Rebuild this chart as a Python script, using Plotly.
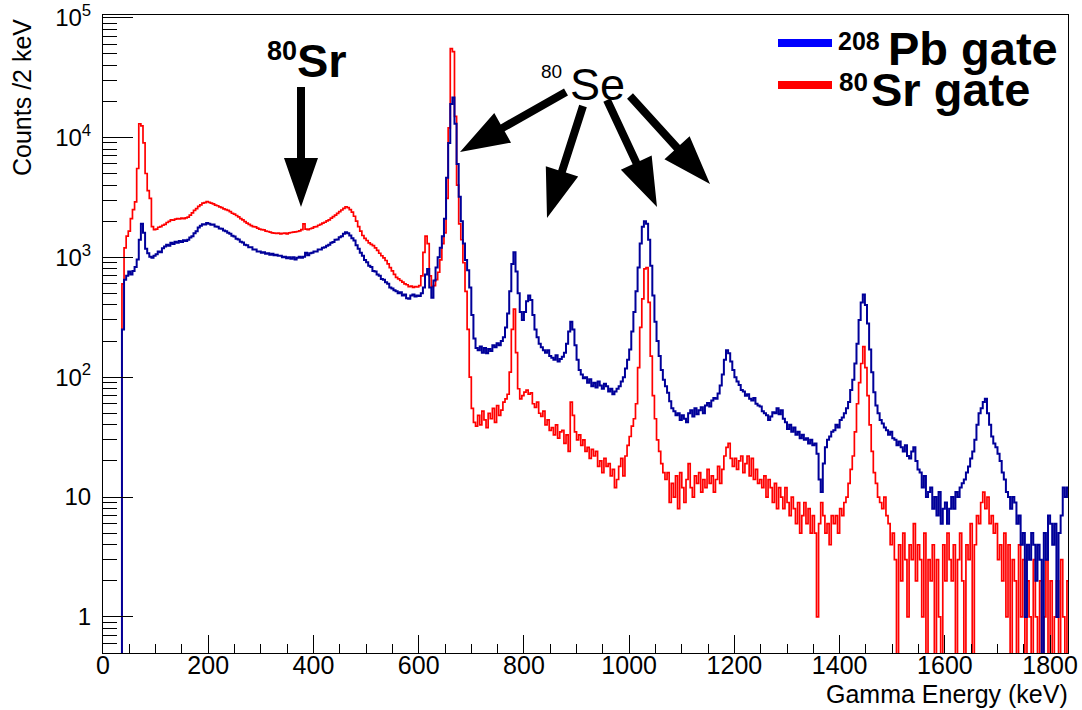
import plotly.graph_objects as go

# ---------------- data (counts per 2 keV, read in 4 keV steps) ----------------
first_edge_kev = 36
bin_width_kev = 4

pb_gate_counts = [
    250, 650, 700, 760, 720, 770, 830, 960, 1400, 1900, 1600, 1180, 1080, 1010, 990, 1030, 1060, 1120, 1100, 1190, 1230, 1270, 1250, 1320, 1290,
    1350, 1320, 1370, 1340, 1390, 1370, 1400, 1460, 1500, 1590, 1650, 1770, 1830, 1890, 1880, 1930, 1900, 1870, 1880, 1810, 1800, 1740, 1730, 1670, 1650,
    1600, 1570, 1510, 1490, 1430, 1410, 1350, 1330, 1270, 1260, 1210, 1210, 1160, 1160, 1120, 1120, 1090, 1100, 1070, 1080, 1050, 1070, 1040, 1050, 1030,
    1030, 1000, 1010, 980, 1000, 970, 1000, 960, 990, 1010, 990, 1010, 1090, 1040, 1080, 1090, 1120, 1120, 1160, 1160, 1200, 1210, 1250, 1270, 1320,
    1340, 1400, 1410, 1470, 1500, 1570, 1620, 1590, 1520, 1440, 1380, 1260, 1180, 1090, 1030, 950, 910, 850, 830, 770, 760, 720, 700, 660, 650,
    620, 600, 560, 550, 530, 520, 500, 510, 480, 490, 455, 450, 480, 490, 470, 480, 475, 500, 560, 720, 800, 560, 460, 640, 820,
    1000, 1200, 1500, 2100, 4600, 9000, 19000, 21500, 13000, 6000, 3200, 2000, 1300, 950, 780, 560, 330, 210, 175, 168, 180, 160, 175, 158, 172,
    165, 185, 178, 192, 185, 200, 215, 260, 340, 520, 880, 1100, 760, 500, 350, 300, 350, 430, 480, 440, 330, 250, 215, 190, 178,
    168, 160, 168, 150, 145, 140, 152, 135, 142, 148, 160, 190, 240, 290, 250, 185, 140, 115, 105, 98, 100, 90, 96, 84, 90,
    82, 92, 85, 80, 88, 84, 76, 80, 72, 76, 80, 84, 92, 100, 118, 140, 170, 240, 350, 520, 820, 1300, 1800, 2000, 1900,
    1400, 850, 480, 290, 200, 150, 115, 95, 84, 74, 63, 55, 52, 48, 50, 44, 48, 45, 42, 50, 53, 47, 55, 49, 53,
    56, 50, 58, 61, 57, 64, 67, 66, 73, 85, 105, 140, 168, 158, 135, 115, 100, 92, 86, 78, 76, 70, 72, 66, 64,
    67, 60, 58, 57, 52, 50, 48, 44, 47, 51, 50, 55, 49, 53, 45, 42, 37, 40, 35, 38, 33, 35, 31, 33, 30,
    31, 28, 30, 27, 28, 23, 14, 11, 19, 26, 30, 32, 35, 36, 40, 38, 44, 46, 50, 55, 62, 78, 95, 130, 190,
    300, 420, 490, 400, 280, 170, 110, 75, 58, 50, 44, 41, 38, 36, 33, 35, 31, 30, 27, 29, 26, 24, 27, 22, 21,
    24, 26, 20, 17, 16, 12, 15, 10, 11, 12, 8, 10, 7, 11, 6, 8, 9, 6, 8, 10, 8, 11, 10, 12, 13,
    14, 16, 18, 21, 24, 30, 40, 50, 55, 62, 66, 50, 40, 32, 28, 26, 23, 20, 16, 14, 11, 10, 8, 10, 9,
    6, 7, 4, 5, 1, 4, 3, 5, 4, 2, 4, 3, 0, 5, 3, 7, 6, 4, 6, 1, 5, 7, 12, 10, 12,
]

sr_gate_counts = [
    600, 1200, 1500, 1650, 2100, 2500, 2900, 5500, 13000, 12500, 9000, 5000, 3600, 3100, 1800, 1700, 1720, 1780, 1800, 1850, 1880, 1950, 1990, 2050, 2040,
    2080, 2100, 2090, 2120, 2100, 2130, 2160, 2250, 2350, 2460, 2550, 2660, 2740, 2830, 2860, 2920, 2870, 2830, 2790, 2720, 2690, 2630, 2600, 2530, 2500,
    2460, 2400, 2330, 2290, 2230, 2170, 2100, 2050, 1980, 1930, 1880, 1840, 1800, 1790, 1750, 1720, 1700, 1690, 1650, 1640, 1620, 1600, 1590, 1580, 1590,
    1570, 1580, 1590, 1570, 1600, 1610, 1620, 1630, 1640, 1660, 1700, 1900, 1720, 1700, 1730, 1750, 1790, 1800, 1850, 1880, 1930, 1960, 2010, 2050, 2120,
    2180, 2250, 2320, 2400, 2480, 2560, 2640, 2600, 2500, 2380, 2200, 2000, 1800, 1650, 1520, 1440, 1380, 1320, 1280, 1250, 1200, 1140, 1080, 1030, 990,
    940, 880, 820, 770, 720, 680, 660, 640, 620, 600, 590, 570, 575, 560, 570, 565, 580, 700, 1100, 1500, 1300, 700, 570, 580, 650,
    750, 950, 1300, 1600, 3100, 12000, 55000, 52000, 15000, 4000, 1900, 1400, 900, 520, 250, 100, 55, 42, 39, 48, 40, 52, 44, 38, 50,
    45, 55, 42, 58, 48, 53, 62, 66, 72, 110, 250, 370, 160, 80, 66, 70, 75, 78, 72, 74, 60, 56, 62, 50, 47,
    52, 40, 44, 36, 38, 33, 40, 31, 35, 36, 28, 33, 24, 62, 48, 35, 30, 33, 27, 30, 24, 26, 21, 25, 22,
    24, 18, 20, 16, 21, 18, 19, 15, 17, 12, 14, 18, 21, 15, 22, 27, 32, 39, 45, 60, 120, 260, 450, 800, 820,
    420, 150, 70, 45, 30, 24, 19, 16, 14, 16, 9, 13, 10, 15, 8, 16, 12, 9, 14, 19, 12, 10, 15, 13, 16,
    11, 14, 12, 17, 13, 15, 11, 14, 18, 13, 17, 22, 26, 28, 21, 18, 21, 17, 20, 22, 16, 19, 22, 15, 21,
    14, 17, 13, 14, 12, 15, 10, 14, 12, 9, 13, 8, 12, 10, 8, 12, 9, 7, 10, 8, 6, 9, 5, 7, 9,
    6, 8, 5, 7, 5, 1, 6, 9, 7, 5, 6, 4, 7, 6, 7, 5, 8, 7, 9, 10, 13, 17, 22, 35, 60,
    90, 130, 180, 120, 70, 40, 24, 16, 13, 10, 9, 8, 10, 7, 6, 4, 5, 3, 0, 4, 2, 5, 3, 1, 4,
    3, 6, 2, 4, 3, 1, 5, 0, 3, 2, 4, 0, 3, 1, 0, 4, 2, 5, 3, 2, 4, 0, 3, 5, 2,
    0, 4, 3, 6, 0, 4, 7, 6, 9, 11, 8, 10, 6, 7, 5, 6, 3, 4, 2, 5, 1, 4, 0, 3, 2,
    0, 4, 1, 3, 0, 2, 1, 0, 3, 1, 0, 2, 0, 1, 3, 0, 2, 0, 1, 2, 0, 3, 1, 0, 2,
]

series_names = ["<sup>208</sup>Pb gate", "<sup>80</sup>Sr gate"]
x_tick_values = [0, 200, 400, 600, 800, 1000, 1200, 1400, 1600, 1800]
y_tick_values = [1, 10, 100, 1000, 10000, 100000]
y_tick_labels = ["1", "10", "10<sup>2</sup>", "10<sup>3</sup>", "10<sup>4</sup>", "10<sup>5</sup>"]

# ---------------- layout geometry ----------------
W, H = 1082, 710
L, R, T, B = 103, 14, 15, 57
PW, PH = W - L - R, H - T - B
FONT = "Liberation Sans, Arial, Helvetica, sans-serif"
FLOOR = 0.05  # empty bins drop to the bottom of the log frame


def pxx(x):
    return (x - L) / PW


def pxy(y):
    return (H - B - y) / PH


def step_xy(counts):
    edges = [first_edge_kev + i * bin_width_kev for i in range(len(counts) + 1)]
    vals = [c if c > 0 else FLOOR for c in counts]
    xs = [0] + edges
    ys = [FLOOR] + vals + [vals[-1]]
    return xs, ys


fig = go.Figure()
for counts, name, color, width in [
    (sr_gate_counts, series_names[1], "#ff0000", 1.7),
    (pb_gate_counts, series_names[0], "#000099", 2.0),
]:
    xs, ys = step_xy(counts)
    fig.add_trace(go.Scatter(x=xs, y=ys, mode="lines", name=name,
                             line=dict(color=color, width=width, shape="hv"),
                             showlegend=False, hoverinfo="skip"))


def arrow_path(sx, sy, tx, ty, shaft=8.0, head_w=34.0, head_len=49.0):
    dx, dy = tx - sx, ty - sy
    n = (dx * dx + dy * dy) ** 0.5
    ux, uy = dx / n, dy / n
    nx, ny = -uy, ux
    bx, by = tx - ux * head_len, ty - uy * head_len
    pts = [
        (sx + nx * shaft / 2, sy + ny * shaft / 2),
        (bx + nx * shaft / 2, by + ny * shaft / 2),
        (bx + nx * head_w / 2, by + ny * head_w / 2),
        (tx, ty),
        (bx - nx * head_w / 2, by - ny * head_w / 2),
        (bx - nx * shaft / 2, by - ny * shaft / 2),
        (sx - nx * shaft / 2, sy - ny * shaft / 2),
    ]
    d = "M " + " L ".join(f"{pxx(x):.5f},{pxy(y):.5f}" for x, y in pts) + " Z"
    return dict(type="path", path=d, xref="paper", yref="paper",
                fillcolor="black", line=dict(width=0), layer="above")


shapes = [
    arrow_path(301, 87, 301, 207),
    arrow_path(566, 92, 460, 152),
    arrow_path(583, 106, 547, 218),
    arrow_path(607, 100, 657, 207),
    arrow_path(630, 96, 710, 184),
    dict(type="line", xref="paper", yref="paper", x0=pxx(778), x1=pxx(832),
         y0=pxy(43), y1=pxy(43), line=dict(color="#0000ff", width=8)),
    dict(type="line", xref="paper", yref="paper", x0=pxx(778), x1=pxx(832),
         y0=pxy(85), y1=pxy(85), line=dict(color="#ff0000", width=8)),
]


def label(text, left, baseline, size, bold=False, anchor="left"):
    yc = baseline - 0.3465 * size
    return dict(text=f"<b>{text}</b>" if bold else text, x=pxx(left), y=pxy(yc),
                xref="paper", yref="paper", xanchor=anchor, yanchor="middle",
                showarrow=False, borderpad=0,
                font=dict(family=FONT, size=size, color="black"))


annotations = [
    label("208", 837, 50, 25, bold=True),
    label("Pb gate", 887, 65, 47, bold=True),
    label("80", 838, 91, 26, bold=True),
    label("Sr gate", 870, 106, 47, bold=True),
    label("80", 266, 60, 27, bold=True),
    label("Sr", 296, 77, 47, bold=True),
    label("80", 540, 78, 19),
    label("Se", 569, 100, 45),
    label("Gamma Energy (keV)", 1069, 703, 25, anchor="right"),
    dict(text="Counts /2 keV", x=pxx(22), y=pxy(98), xref="paper", yref="paper",
         xanchor="center", yanchor="middle", textangle=-90, showarrow=False,
         font=dict(family=FONT, size=25, color="black")),
]

fig.update_layout(
    width=W, height=H,
    margin=dict(l=L, r=R, t=T, b=B, autoexpand=False),
    paper_bgcolor="white", plot_bgcolor="white",
    font=dict(family=FONT, size=25, color="black"),
    shapes=shapes, annotations=annotations,
    showlegend=False,
)
fig.update_xaxes(
    range=[0, 1834], showgrid=False, zeroline=False, automargin=False,
    showline=True, linecolor="black", linewidth=1, mirror=True,
    ticks="inside", ticklen=18, tickwidth=1, tickcolor="black",
    tickmode="array", tickvals=x_tick_values, ticklabelstandoff=-10,
    tickfont=dict(family=FONT, size=25, color="black"),
    minor=dict(ticks="inside", ticklen=9, tickwidth=1, tickcolor="black", dtick=50),
)
fig.update_yaxes(
    type="log", range=[-0.30103, 5.021], showgrid=False, zeroline=False, automargin=False,
    showline=True, linecolor="black", linewidth=1, mirror=True,
    ticks="inside", ticklen=30, tickwidth=1, tickcolor="black",
    tickmode="array", tickvals=y_tick_values, ticktext=y_tick_labels, ticklabelstandoff=6,
    tickfont=dict(family=FONT, size=24, color="black"),
    minor=dict(ticks="inside", ticklen=14, tickwidth=1, tickcolor="black", dtick="D1"),
)

fig.write_html("out.html", config={"displayModeBar": False},
               post_script="document.body.style.margin='0';document.body.style.overflow='hidden';")
